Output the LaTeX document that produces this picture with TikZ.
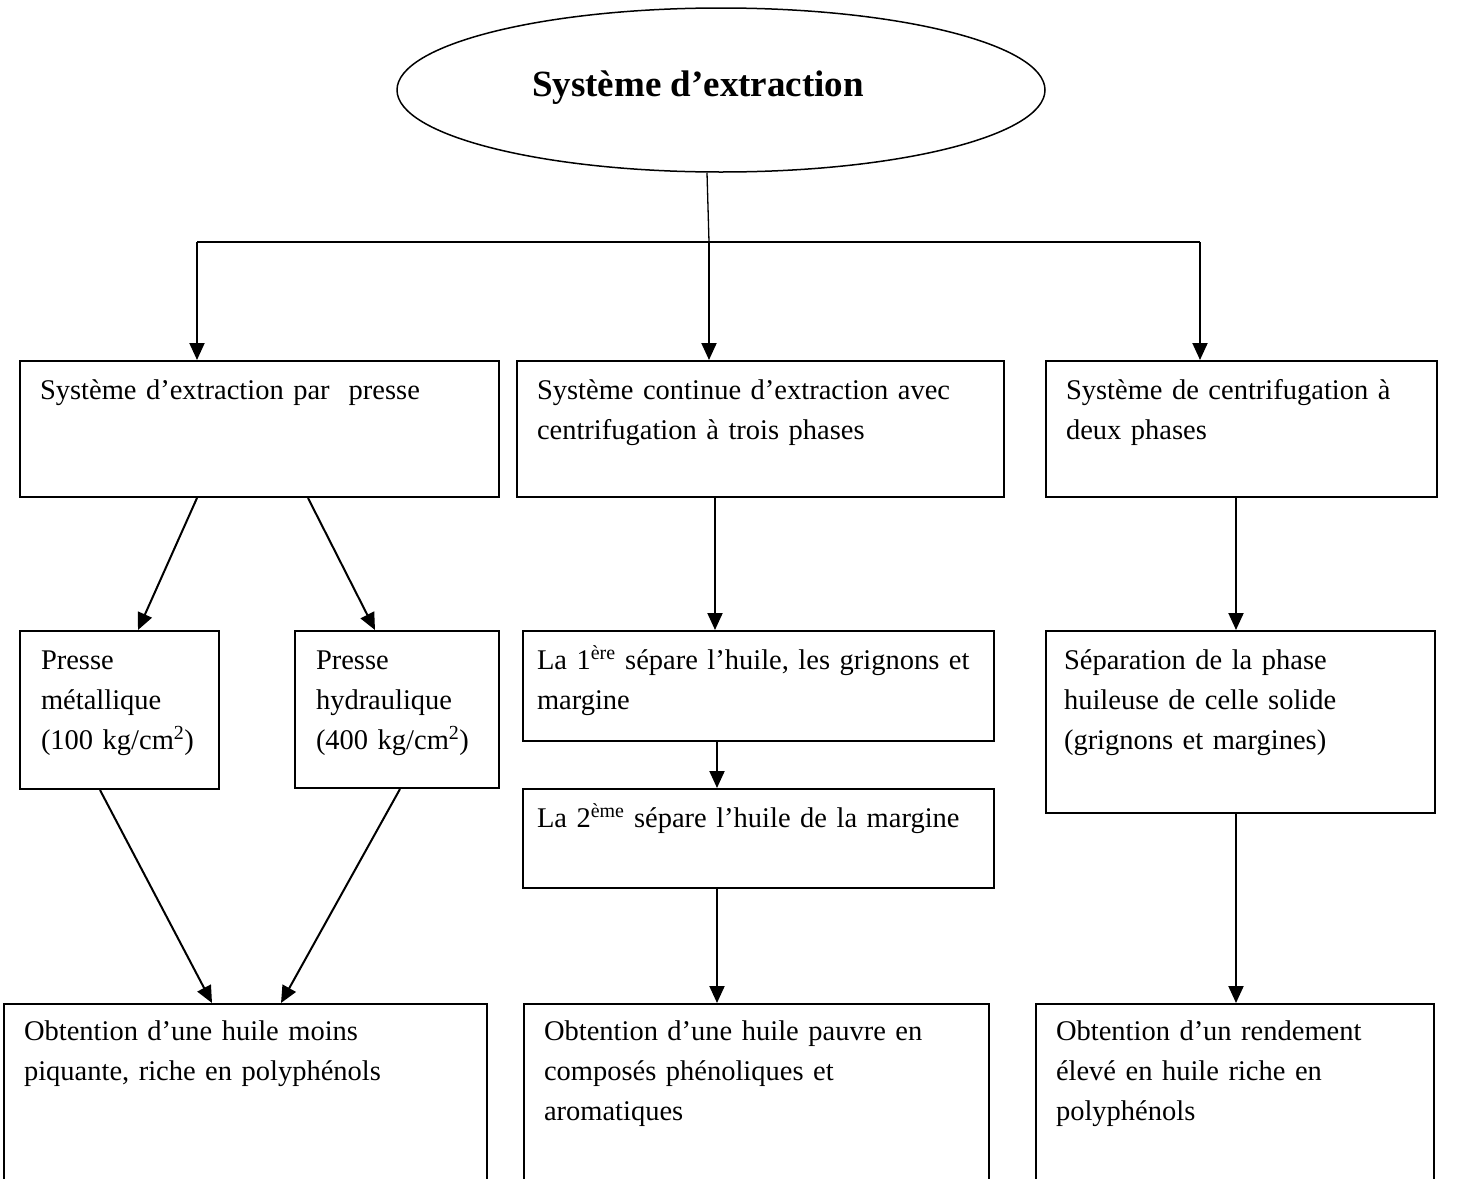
\documentclass[tikz,border=0pt]{standalone}
\usepackage{fontspec}
\setmainfont{Liberation Serif}
\usetikzlibrary{arrows.meta,shapes.geometric}

\tikzset{
  boite/.style={draw, line width=2pt, anchor=north west, inner xsep=20pt, inner ysep=0pt,
    align=left, text height=38pt, font=\fontsize{28.5}{40}\selectfont},
  fleche/.style={line width=2pt, -{Triangle[length=17pt,width=15pt]}},
  fil/.style={line width=2pt}
}

\begin{document}
\begin{tikzpicture}[x=1pt, y=-1pt]
  \useasboundingbox (0,0) rectangle (1461,1178);

  \node[ellipse, draw, line width=1.5pt, minimum width=648pt, minimum height=164pt, inner sep=0pt,
        font=\fontsize{37}{44}\selectfont\bfseries] (titre) at (721,90)
    {\raisebox{12pt}{Système d’extraction}\kern46pt};

  \coordinate (gauche) at (197,242);
  \coordinate (jonction) at (709,242);
  \coordinate (droite) at (1200,242);

  % premier niveau
  \node[boite, text width=439pt, text depth=98pt] (presse) at (19,360)
    {Système d’extraction par~ presse};
  \node[boite, text width=447pt, text depth=98pt] (continu) at (516,360)
    {Système continue d’extraction avec\\centrifugation à trois phases};
  \node[boite, text width=351pt, text depth=98pt] (deuxphases) at (1045,360)
    {Système de centrifugation à\\deux phases};

  % deuxieme niveau
  \node[boite, inner xsep=21pt, text width=157pt, text depth=120pt] (metal) at (19,630)
    {Presse\\métallique\\(100~kg/cm\textsuperscript{2})};
  \node[boite, inner xsep=21pt, text width=162pt, text depth=119pt] (hydrau) at (294,630)
    {Presse\\hydraulique\\(400~kg/cm\textsuperscript{2})};
  \node[boite, inner xsep=14pt, text width=443pt, text depth=72pt] (premiere) at (522,630)
    {La 1\textsuperscript{ère} sépare l’huile, les grignons et\\margine};
  \node[boite, inner xsep=14pt, text width=443pt, text depth=61pt] (deuxieme) at (522,788)
    {La 2\textsuperscript{ème} sépare l’huile de la margine};
  \node[boite, inner xsep=18pt, text width=353pt, text depth=144pt] (separation) at (1045,630)
    {Séparation de la phase\\huileuse de celle solide\\(grignons et margines)};

  % resultats
  \node[boite, text height=36pt, text width=443pt, text depth=170pt] (bas1) at (3,1003)
    {Obtention d’une huile moins\\piquante, riche en polyphénols};
  \node[boite, text height=36pt, text width=425pt, text depth=170pt] (bas2) at (523,1003)
    {Obtention d’une huile pauvre en\\composés phénoliques et\\aromatiques};
  \node[boite, text height=36pt, text width=358pt, text depth=170pt] (bas3) at (1035,1003)
    {Obtention d’un rendement\\élevé en huile riche en\\polyphénols};

  % liaisons
  \draw[line width=1.3pt] ([xshift=-14pt]titre.south) -- (jonction);
  \draw[fil] (gauche) -- (droite);
  \draw[fleche] (gauche) -- (gauche |- presse.north);
  \draw[fleche] (jonction) -- (jonction |- continu.north);
  \draw[fleche] (droite) -- (droite |- deuxphases.north);

  \draw[fleche] ([xshift=178pt]presse.south west) -- ([xshift=119pt]metal.north west);
  \draw[fleche] ([xshift=289pt]presse.south west) -- ([xshift=81pt]hydrau.north west);
  \draw[fleche] ([xshift=199pt]continu.south west) -- ([xshift=193pt]premiere.north west);
  \draw[fleche] ([xshift=195pt]premiere.south west) -- ([xshift=195pt]deuxieme.north west);
  \draw[fleche] ([xshift=191pt]deuxphases.south west) -- ([xshift=191pt]separation.north west);

  \draw[fleche] ([xshift=81pt]metal.south west) -- ([xshift=209pt]bas1.north west);
  \draw[fleche] ([xshift=106pt]hydrau.south west) -- ([xshift=278pt]bas1.north west);
  \draw[fleche] ([xshift=195pt]deuxieme.south west) -- ([xshift=194pt]bas2.north west);
  \draw[fleche] ([xshift=191pt]separation.south west) -- ([xshift=201pt]bas3.north west);
\end{tikzpicture}
\end{document}
